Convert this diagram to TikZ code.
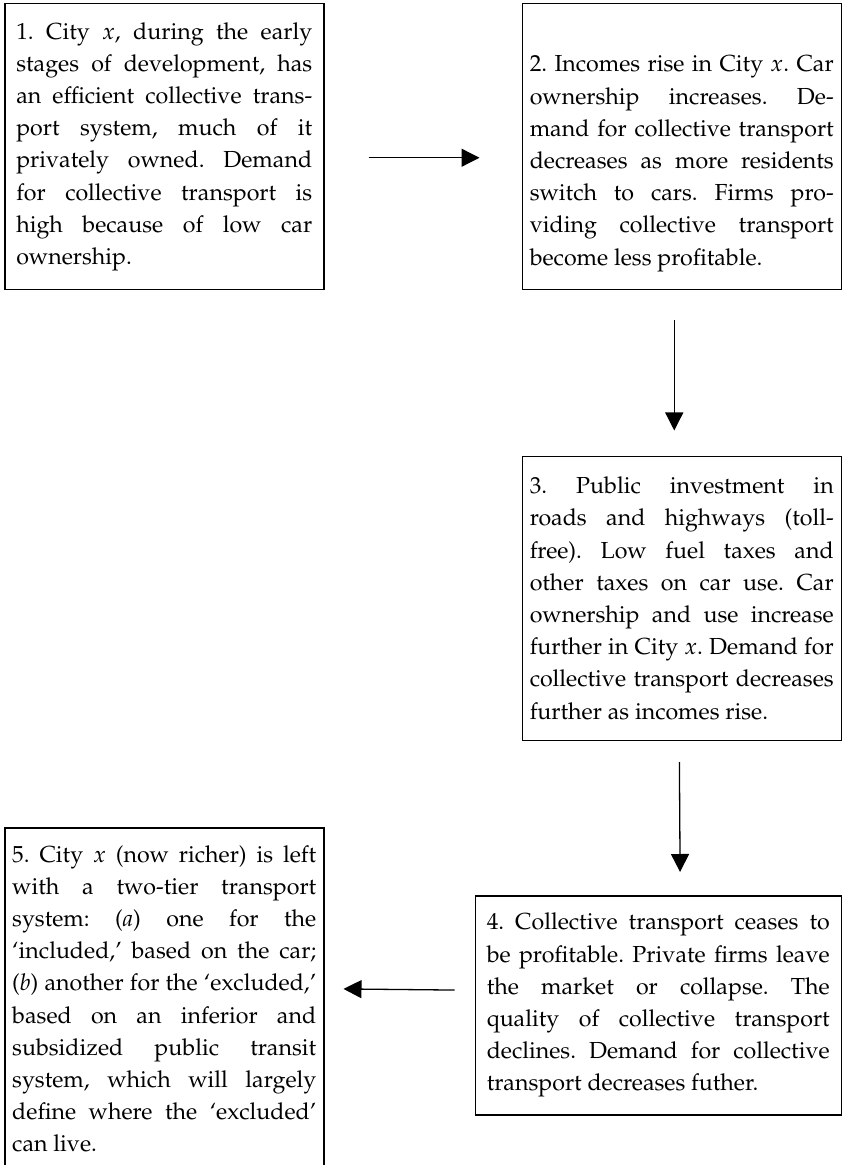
\documentclass[tikz,border=0pt]{standalone}
\usepackage[T1]{fontenc}
\usepackage{mathpazo}
\usetikzlibrary{arrows.meta, positioning}
\newcommand{\boxfont}{\fontsize{11.6}{16.1}\selectfont\frenchspacing\hyphenpenalty=10000\tolerance=10000}

\begin{document}
\begin{tikzpicture}[
      box/.style = {draw, line width=0.75pt, align=justify, text width=152pt, minimum width=159.5pt, inner xsep=3.5pt, inner ysep=0pt, font=\boxfont},
      ar/.style  = {-{Triangle[length=9pt, width=9pt]}, line width=0.65pt} ]
    \useasboundingbox (0,0) rectangle (420.5pt,-582.5pt);

    \node[box, text width=148pt, minimum height=143pt, anchor=north west] (s1) at (2pt,-1.5pt)
      {1. City $x$, during the early\linebreak stages of development, has\linebreak an efficient collective trans-\linebreak port system, much of it\linebreak privately owned. Demand\linebreak for collective transport is\linebreak high because of low car\linebreak ownership.};
    \node[box, minimum height=143pt, right=98.5pt of s1.north east, anchor=north west] (s2)
      {\rule{0pt}{25pt}2.\ Incomes rise in City $x$. Car\linebreak ownership increases. De-\linebreak mand for collective transport\linebreak decreases as more residents\linebreak switch to cars. Firms pro-\linebreak viding collective transport\linebreak become less profitable.};
    \node[box, minimum height=142pt, below=82.5pt of s2.south west, anchor=north west] (s3)
      {3. Public investment in\linebreak roads and highways (toll-\linebreak free). Low fuel taxes and\linebreak other taxes on car use. Car\linebreak ownership and use increase\linebreak further in City $x$. Demand for\linebreak collective transport decreases\linebreak further as incomes rise.};
    \node[box, text width=171.5pt, minimum width=183pt, minimum height=109.5pt, below=77pt of s3.south east, anchor=north east] (s4)
      {4.\ Collective transport ceases to\linebreak be profitable. Private firms leave\linebreak the market or collapse. The\linebreak quality of collective transport\linebreak declines. Demand for collective\linebreak transport decreases futher.};
    \node[box, minimum height=171pt, anchor=north west] (s5) at (2pt,-413.5pt)
      {5.\ City $x$ (now richer) is left\linebreak with a two-tier transport\linebreak system: (\emph{a}) one for the\linebreak `included,' based on the car;\linebreak (\emph{b}) another for the `excluded,'\linebreak based on an inferior and\linebreak subsidized public transit\linebreak system, which will largely\linebreak define where the `excluded'\linebreak can live.};

    \draw[ar, shorten <=22pt, shorten >=21pt] ([yshift=-5.5pt]s1.east) -- ([yshift=-5.5pt]s2.west);
    \draw[ar, shorten <=15pt, shorten >=12.5pt] ([xshift=-3.75pt]s2.south) -- ([xshift=-3.75pt]s3.north);
    \draw[ar, shorten <=10.5pt, shorten >=11.5pt] ([xshift=-1.25pt]s3.south) -- ([xshift=11pt]s4.north);
    \draw[ar, shorten <=10pt, shorten >=9.5pt] ([yshift=7.5pt]s4.west) -- ([yshift=5pt]s5.east);
  \end{tikzpicture}
\end{document}
